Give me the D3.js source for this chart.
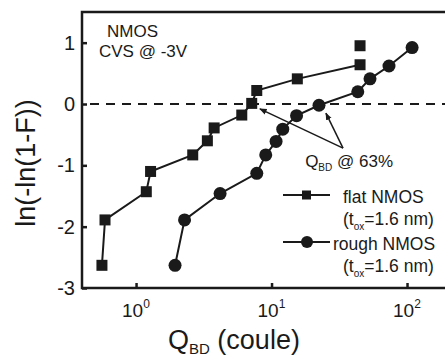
<!DOCTYPE html>
<html>
<head>
<meta charset="utf-8">
<script src="https://cdn.jsdelivr.net/npm/d3@7"></script>
<style>
  body { margin: 0; background: #fff; }
  svg { display: block; font-family: "Liberation Sans", Arial, sans-serif; }
</style>
</head>
<body>
<svg id="chart" width="445" height="359"></svg>
<script>
// Weibull plot data
const flatQ  = [0.56, 0.59, 1.19, 1.28, 2.62, 3.36, 3.77, 6.03, 7.14, 7.78, 15.5, 45.0, 45.0];
const flatF  = [-2.63, -1.89, -1.43, -1.10, -0.83, -0.60, -0.39, -0.18, 0.01, 0.22, 0.41, 0.64, 0.95];
const roughQ = [1.94, 2.28, 4.17, 7.78, 9.06, 10.8, 12.1, 15.3, 22.4, 43.3, 53.3, 73.6, 109];
const roughF = [-2.63, -1.89, -1.46, -1.13, -0.83, -0.61, -0.41, -0.19, -0.02, 0.20, 0.41, 0.62, 0.92];

const xTicks = [1, 10, 100];
const yTicks = [-3, -2, -1, 0, 1];
const legendNames = ["flat NMOS", "rough NMOS"];

// annotation "Q_BD @ 63%" : arrow tail and tips in data units
const annTail = [33.7, -0.72];
const annTips = [[8.2, -0.08], [25.2, -0.15]];
const annText = [17.7, -1.03];

const ink = "#1a1a1a";
const svg = d3.select("#chart");

const xScale = d3.scaleLog()
    .domain([Math.pow(10, -0.399), Math.pow(10, 2.391)])
    .range([82, 460]);
const yScale = d3.scaleLinear()
    .domain([-3, 1.5])
    .range([288, 12]);

const flat = flatQ.map((q, i) => ({ q: q, f: flatF[i] }));
const rough = roughQ.map((q, i) => ({ q: q, f: roughF[i] }));

// dashed 63% line
svg.append("line")
    .attr("x1", xScale.range()[0] + 8)
    .attr("x2", xScale.range()[1])
    .attr("y1", yScale(0))
    .attr("y2", yScale(0))
    .attr("stroke", ink)
    .attr("stroke-width", 2)
    .attr("stroke-dasharray", "9,7");

// axes: ticks point inward
const axisX = d3.axisBottom(xScale).tickValues(xTicks).tickSize(-5).tickFormat("");
const axisY = d3.axisLeft(yScale).tickValues(yTicks).tickSize(-5).tickFormat("");

const gx = svg.append("g")
    .attr("transform", `translate(0, ${yScale(-3)})`)
    .call(axisX);
const gy = svg.append("g")
    .attr("transform", `translate(${xScale.range()[0]}, 0)`)
    .call(axisY);

svg.selectAll(".domain").remove();
svg.selectAll(".tick line").attr("stroke", ink).attr("stroke-width", 2.5);

// frame (left, bottom, top)
svg.append("path")
    .attr("d", `M${xScale.range()[1]},${yScale.range()[1]} H${xScale.range()[0]} V${yScale.range()[0]} H${xScale.range()[1]}`)
    .attr("fill", "none")
    .attr("stroke", ink)
    .attr("stroke-width", 2.5);

// y tick labels
svg.append("g").selectAll("text")
    .data(yTicks)
    .enter()
    .append("text")
    .attr("x", 75)
    .attr("y", d => yScale(d) + 7)
    .attr("text-anchor", "end")
    .attr("font-size", 20)
    .attr("fill", ink)
    .text(d => d < 0 ? "-" + Math.abs(d) : d);

// x tick labels 10^n
const xl = svg.append("g").selectAll("text")
    .data(xTicks)
    .enter()
    .append("text")
    .attr("x", d => xScale(d) - 14)
    .attr("y", 317)
    .attr("font-size", 19)
    .attr("fill", ink);
xl.append("tspan").text("10");
xl.append("tspan")
    .attr("font-size", 12)
    .attr("dy", -9)
    .text(d => Math.round(Math.log10(d)));

// axis titles
const xt = svg.append("text")
    .attr("x", 168)
    .attr("y", 349)
    .attr("font-size", 27)
    .attr("fill", ink);
xt.append("tspan").text("Q");
xt.append("tspan").attr("font-size", 15).attr("dy", 5).text("BD");
xt.append("tspan").attr("dy", -5).text(" (coule)");

svg.append("text")
    .attr("transform", "translate(35, 163) rotate(-90)")
    .attr("text-anchor", "middle")
    .attr("font-size", 27)
    .attr("fill", ink)
    .text("ln(-ln(1-F))");

// series lines
const line = d3.line().x(d => xScale(d.q)).y(d => yScale(d.f));

svg.append("path")
    .datum(flat.slice(0, flat.length - 1))
    .attr("d", line)
    .attr("fill", "none")
    .attr("stroke", ink)
    .attr("stroke-width", 2);

svg.append("path")
    .datum(rough)
    .attr("d", line)
    .attr("fill", "none")
    .attr("stroke", ink)
    .attr("stroke-width", 2);

// markers
svg.append("g").selectAll("rect")
    .data(flat)
    .enter()
    .append("rect")
    .attr("x", d => xScale(d.q) - 5.5)
    .attr("y", d => yScale(d.f) - 5.5)
    .attr("width", 11)
    .attr("height", 11)
    .attr("fill", ink);

svg.append("g").selectAll("circle")
    .data(rough)
    .enter()
    .append("circle")
    .attr("cx", d => xScale(d.q))
    .attr("cy", d => yScale(d.f))
    .attr("r", 6.5)
    .attr("fill", ink);

// annotation with arrows
svg.append("defs").append("marker")
    .attr("id", "head")
    .attr("viewBox", "0 0 10 10")
    .attr("refX", 9)
    .attr("refY", 5)
    .attr("markerWidth", 5)
    .attr("markerHeight", 5)
    .attr("orient", "auto")
    .append("path")
    .attr("d", "M0,1 L10,5 L0,9 Z")
    .attr("fill", ink);

svg.append("g").selectAll("line")
    .data(annTips)
    .enter()
    .append("line")
    .attr("x1", xScale(annTail[0]))
    .attr("y1", yScale(annTail[1]))
    .attr("x2", d => xScale(d[0]))
    .attr("y2", d => yScale(d[1]))
    .attr("stroke", ink)
    .attr("stroke-width", 1.5)
    .attr("marker-end", "url(#head)");

const at = svg.append("text")
    .attr("x", xScale(annText[0]))
    .attr("y", yScale(annText[1]))
    .attr("font-size", 17)
    .attr("fill", ink);
at.append("tspan").text("Q");
at.append("tspan").attr("font-size", 10).attr("dy", 4).text("BD");
at.append("tspan").attr("dy", -4).text(" @ 63%");

// inset label
svg.append("text")
    .attr("x", 107).attr("y", 37)
    .attr("font-size", 17).attr("fill", ink)
    .text("NMOS");
svg.append("text")
    .attr("x", 99).attr("y", 57)
    .attr("font-size", 17).attr("fill", ink)
    .text("CVS @ -3V");

// legend
const legendRows = [
    { name: legendNames[0], y: 195, tx: 343, shape: "rect" },
    { name: legendNames[1], y: 242, tx: 333, shape: "circle" }
];

legendRows.forEach(r => {
    svg.append("line")
        .attr("x1", 283).attr("x2", 330)
        .attr("y1", r.y).attr("y2", r.y)
        .attr("stroke", ink).attr("stroke-width", 2);
    if (r.shape === "rect") {
        svg.append("rect")
            .attr("x", 302).attr("y", r.y - 4.5)
            .attr("width", 9).attr("height", 9)
            .attr("fill", ink);
    } else {
        svg.append("circle")
            .attr("cx", 307).attr("cy", r.y)
            .attr("r", 6).attr("fill", ink);
    }
    svg.append("text")
        .attr("x", r.tx).attr("y", r.y + 8)
        .attr("font-size", 17.5).attr("fill", ink)
        .text(r.name);
    const t = svg.append("text")
        .attr("x", 343).attr("y", r.y + 30)
        .attr("font-size", 17.5).attr("fill", ink);
    t.append("tspan").text("(t");
    t.append("tspan").attr("font-size", 10).attr("dy", 5).text("ox");
    t.append("tspan").attr("dy", -5).text("=1.6 nm)");
});
</script>
</body>
</html>
